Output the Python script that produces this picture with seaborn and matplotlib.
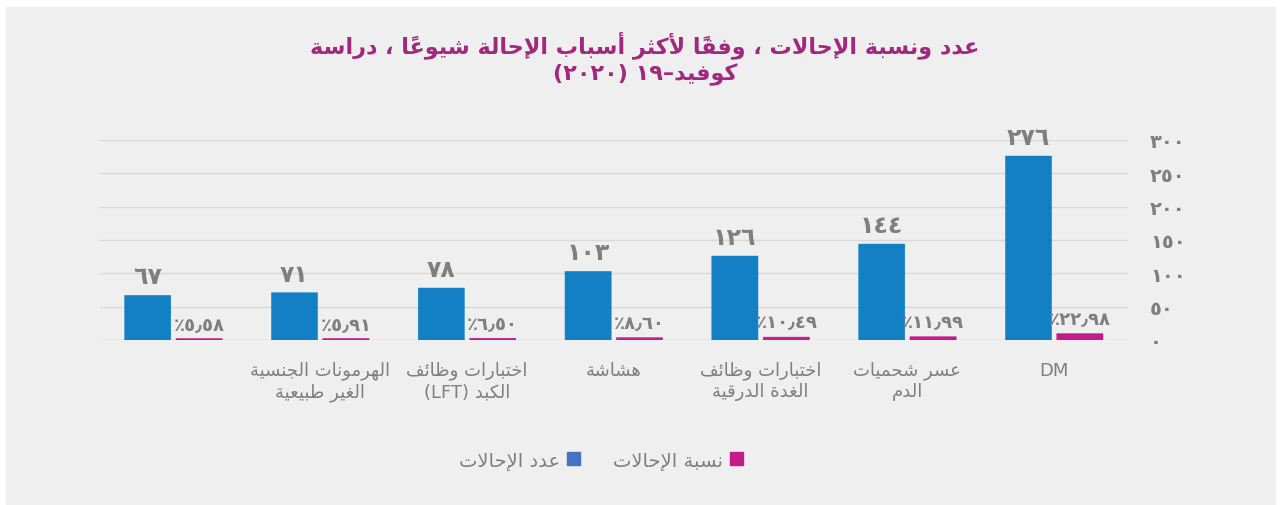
import matplotlib
matplotlib.use('Agg')
import pandas as pd
import matplotlib.pyplot as plt
from matplotlib.patches import Patch, Rectangle
import seaborn as sns

# ------------------------------------------------------------
# chart data (groups listed left to right as they are drawn)
# ------------------------------------------------------------
CATEGORIES = ['',
              'الهرمونات الجنسية\nالغير طبيعية',
              'اختبارات وظائف\nالكبد (LFT)',
              'هشاشة',
              'اختبارات وظائف\nالغدة الدرقية',
              'عسر شحميات\nالدم',
              'DM']
REFERRAL_COUNTS = [67, 71, 78, 103, 126, 144, 276]
REFERRAL_PCTS = [5.58, 5.91, 6.50, 8.60, 10.49, 11.99, 22.98]
SERIES = ['عدد الإحالات', 'نسبة الإحالات']
Y_TICKS = [0, 50, 100, 150, 200, 250, 300]
TITLE_LINES = ['عدد ونسبة الإحالات ، وفقًا لأكثر أسباب الإحالة شيوعًا ، دراسة',
               'كوفيد–١٩ (٢٠٢٠)']

# the percentage bars share the count axis, drawn as thin bars
PCT_SCALE = 0.42

BAR_BLUE = '#1380C6'
BAR_PINK = '#C51A8A'
LEGEND_BLUE = '#4472C4'
TITLE_COLOR = '#A1287E'
TEXT_GREY = '#7f7f7f'
GRID_GREY = '#d9d9d9'
PANEL_GREY = '#efefef'

# ------------------------------------------------------------
# minimal arabic shaping + right-to-left ordering for matplotlib
# ------------------------------------------------------------
_FORM_TABLE = [('ء', 0xFE80, 1), ('آ', 0xFE81, 2), ('أ', 0xFE83, 2), ('ؤ', 0xFE85, 2),
               ('إ', 0xFE87, 2), ('ئ', 0xFE89, 4), ('ا', 0xFE8D, 2), ('ب', 0xFE8F, 4),
               ('ة', 0xFE93, 2), ('ت', 0xFE95, 4), ('ث', 0xFE99, 4), ('ج', 0xFE9D, 4),
               ('ح', 0xFEA1, 4), ('خ', 0xFEA5, 4), ('د', 0xFEA9, 2), ('ذ', 0xFEAB, 2),
               ('ر', 0xFEAD, 2), ('ز', 0xFEAF, 2), ('س', 0xFEB1, 4), ('ش', 0xFEB5, 4),
               ('ص', 0xFEB9, 4), ('ض', 0xFEBD, 4), ('ط', 0xFEC1, 4), ('ظ', 0xFEC5, 4),
               ('ع', 0xFEC9, 4), ('غ', 0xFECD, 4), ('ف', 0xFED1, 4), ('ق', 0xFED5, 4),
               ('ك', 0xFED9, 4), ('ل', 0xFEDD, 4), ('م', 0xFEE1, 4), ('ن', 0xFEE5, 4),
               ('ه', 0xFEE9, 4), ('و', 0xFEED, 2), ('ى', 0xFEEF, 2), ('ي', 0xFEF1, 4)]
FORMS = {ch: (start, n) for ch, start, n in _FORM_TABLE}
LAM_ALEF = {'آ': 0xFEF5, 'أ': 0xFEF7, 'إ': 0xFEF9, 'ا': 0xFEFB}
MARKS = {chr(c) for c in range(0x064B, 0x0653)}
MIRROR = {'(': ')', ')': '('}
TO_AR_DIGITS = str.maketrans('0123456789.', '٠١٢٣٤٥٦٧٨٩٫')


def _is_ltr(ch):
    return (ch.isascii() and ch.isalnum()) or '\u0660' <= ch <= '\u066B'


def shape_line(text):
    units = []
    i = 0
    while i < len(text):
        ch = text[i]
        if ch in MARKS and units:
            units[-1]['marks'] += ch
            i += 1
            continue
        if ch == 'ل' and i + 1 < len(text) and text[i + 1] in LAM_ALEF:
            base = LAM_ALEF[text[i + 1]]
            units.append({'ch': ch, 'forms': (base, base + 1, None, None), 'kind': 'right', 'marks': ''})
            i += 2
            continue
        if ch in FORMS:
            start, n = FORMS[ch]
            forms = tuple(start + k if k < n else None for k in range(4))
            kind = {1: 'none', 2: 'right', 4: 'dual'}[n]
        elif ch == '\u0640':
            forms, kind = None, 'dual'
        else:
            forms, kind = None, 'none'
        units.append({'ch': ch, 'forms': forms, 'kind': kind, 'marks': ''})
        i += 1

    for k, u in enumerate(units):
        if u['forms'] is None:
            u['glyph'] = u['marks'] + u['ch']
            continue
        prev_j = k > 0 and units[k - 1]['kind'] == 'dual' and u['kind'] != 'none'
        next_j = u['kind'] == 'dual' and k + 1 < len(units) and units[k + 1]['kind'] != 'none'
        iso, fin, ini, med = u['forms']
        cp = med if (prev_j and next_j) else fin if prev_j else ini if next_j else iso
        # zero-width marks sit over the glyph that follows them in visual order
        u['glyph'] = u['marks'] + chr(cp)

    runs = []
    for u in units:
        if _is_ltr(u['ch']):
            if runs and runs[-1][0] == 'L':
                runs[-1][1] += u['glyph']
            else:
                runs.append(['L', u['glyph']])
        else:
            runs.append(['R', MIRROR.get(u['glyph'], u['glyph'])])
    return ''.join(s for _, s in reversed(runs))


def ar(text):
    return '\n'.join(shape_line(line) for line in text.split('\n'))


def ar_num(value, fmt='{:.0f}'):
    return fmt.format(value).translate(TO_AR_DIGITS)


# ------------------------------------------------------------
# long-form table for seaborn (groups keyed by position)
# ------------------------------------------------------------
group_ids = list(range(len(CATEGORIES)))
df = pd.DataFrame({
    'group': group_ids * 2,
    'series': [SERIES[0]] * len(CATEGORIES) + [SERIES[1]] * len(CATEGORIES),
    'value': REFERRAL_COUNTS + [p * PCT_SCALE for p in REFERRAL_PCTS],
})

plt.rcParams['font.family'] = ['DejaVu Sans']

fig = plt.figure(figsize=(12.81, 5.06), dpi=100, facecolor='white')
fig.patches.append(Rectangle((6 / 1281, 1 / 506), 1269 / 1281, 497 / 506,
                             transform=fig.transFigure, color=PANEL_GREY, zorder=-5))

ax = fig.add_axes([100 / 1281, 165 / 506, 1027.6 / 1281, 200 / 506])
ax.patch.set_visible(False)

sns.barplot(data=df, x='group', y='value', hue='series',
            order=group_ids, hue_order=SERIES,
            palette={SERIES[0]: BAR_BLUE, SERIES[1]: BAR_PINK},
            width=0.7, gap=0.1, saturation=1, legend=False,
            errorbar=None, ax=ax)
# thin bars: no pixel snapping, edge in the fill colour so they never vanish
for bar in ax.patches:
    bar.set_snap(False)
    bar.set_edgecolor(bar.get_facecolor())
    bar.set_linewidth(0.3)

ax.set_ylim(0, 300)
ax.set_yticks(Y_TICKS)
ax.yaxis.tick_right()
ax.set_yticklabels([ar_num(v) for v in Y_TICKS], fontsize=14, fontweight='bold', color=TEXT_GREY)
ax.tick_params(axis='y', length=0, pad=16)
ax.yaxis.grid(True, color=GRID_GREY, linewidth=1)
ax.set_axisbelow(True)
ax.set_xticks(group_ids)
ax.set_xticklabels([ar(c) for c in CATEGORIES], fontsize=13, color=TEXT_GREY, linespacing=1.2)
ax.tick_params(axis='x', length=0, pad=15)
ax.set_xlabel('')
ax.set_ylabel('')
for side in ['top', 'right', 'left', 'bottom']:
    ax.spines[side].set_visible(False)

# value labels
ax.bar_label(ax.containers[0], labels=[ar_num(v) for v in REFERRAL_COUNTS],
             padding=5, fontsize=17, fontweight='bold', color=TEXT_GREY)
ax.bar_label(ax.containers[1], labels=['٪' + ar_num(p, '{:.2f}') for p in REFERRAL_PCTS],
             padding=4, fontsize=13, fontweight='bold', color=TEXT_GREY)

# title
fig.text(645 / 1281, 1 - 45 / 506, ar(TITLE_LINES[0]), ha='center', va='center',
         fontsize=16, fontweight='bold', color=TITLE_COLOR)
fig.text(645 / 1281, 1 - 75 / 506, ar(TITLE_LINES[1]), ha='center', va='center',
         fontsize=16, fontweight='bold', color=TITLE_COLOR)

# legend (right-to-left: swatch after the text)
handles = [Patch(color=LEGEND_BLUE, label=ar(SERIES[0])),
           Patch(color=BAR_PINK, label=ar(SERIES[1]))]
fig.legend(handles=handles, ncol=2, loc='center', bbox_to_anchor=(601 / 1281, 1 - 461 / 506),
           frameon=False, markerfirst=False, handlelength=0.65, handleheight=0.65,
           handletextpad=0.35, columnspacing=1.7, fontsize=14, labelcolor=TEXT_GREY)

fig.savefig('out.png', dpi=100)
plt.close(fig)
